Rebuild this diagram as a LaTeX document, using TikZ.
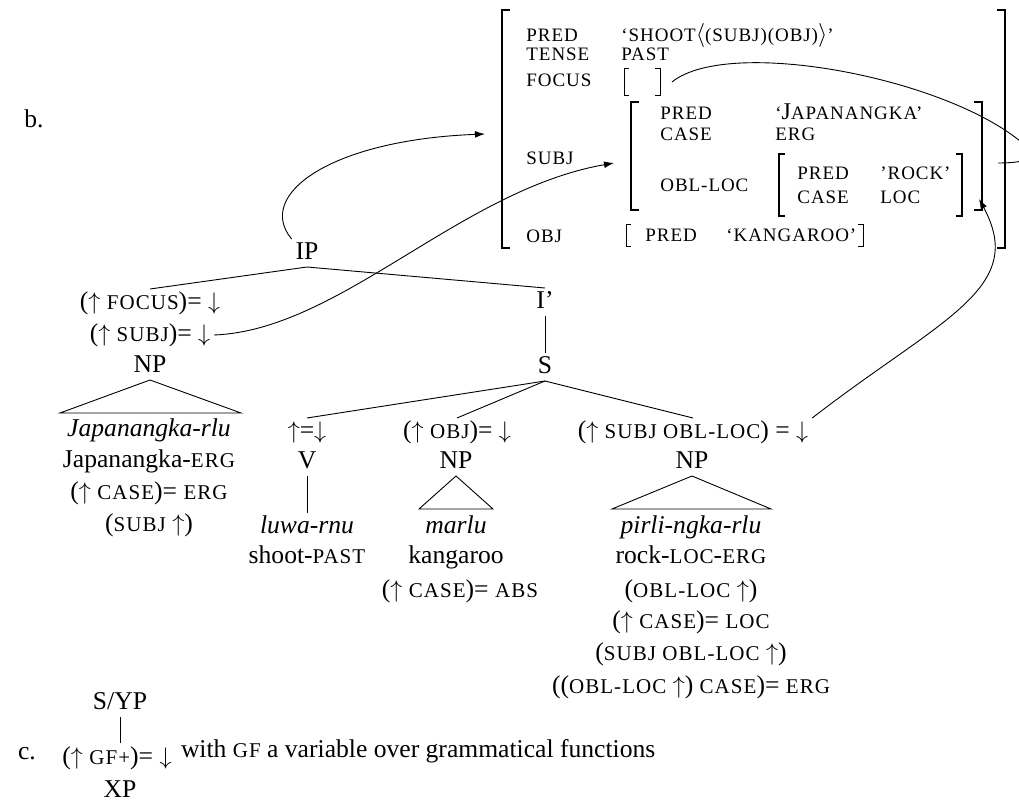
\documentclass[tikz,border=0pt]{standalone}
\usepackage{fontspec}
\setmainfont{Liberation Serif}
\newfontfamily\scf[LetterSpace=5]{Liberation Serif}
\usetikzlibrary{arrows.meta}
\newcommand\tsc[1]{{\scf\fontsize{10.5}{12}\selectfont #1}}
\newcommand\fsbr[6]{%
  \draw[#1] ({#2+#6},#3) -- (#2,#3) -- (#2,#5) -- ({#2+#6},#5);
  \draw[#1] ({#4-#6},#3) -- (#4,#3) -- (#4,#5) -- ({#4-#6},#5);}
\begin{document}
\begin{tikzpicture}[x=0.5pt,y=-0.5pt,
  t/.style={inner sep=0pt, outer sep=2pt, text height=8.5pt, text depth=1.5pt,
            font=\fontsize{12.8}{15}\selectfont},
  m/.style={anchor=west, inner sep=0pt, text height=6.8pt, text depth=1.5pt,
            font=\scf\fontsize{9.5}{11}\selectfont},
  ln/.style={line width=0.45pt},
  arr/.style={line width=0.45pt, -{Latex[length=5pt,width=3.4pt]}},
  thickbr/.style={line width=1pt, line join=miter},
  midbr/.style={line width=0.7pt, line join=miter},
  thinbr/.style={line width=0.45pt, line join=miter}]
\useasboundingbox (0,0) rectangle (1019,802);
\clip (0,0) rectangle (1019,802);

% ---------- labels b. c.
\node[t] (blab) at (34,121) {b.};
\node[t] (clab) at (27,752) {c.};

% ---------- f-structure
\fsbr{thickbr}{502}{10}{1005}{248}{8}
\node[m] (aPred) at (526,36) {PRED};
\node[m] (vPred) at (621,36) {‘SHOOT{\fontsize{12}{13}\selectfont$\langle$}(SUBJ)(OBJ){\fontsize{12}{13}\selectfont$\rangle$}’};
\node[m] (aTense) at (526,55) {TENSE};
\node[m] (vTense) at (621,55) {PAST};
\node[m] (aFocus) at (526,81) {FOCUS};
\fsbr{thinbr}{624}{68}{660}{95}{5}
\coordinate (focusR) at (672,82);
\node[m] (aSubj) at (526,159) {SUBJ};
\fsbr{thickbr}{631}{102}{982}{210}{8}
\node[m] (sPred) at (660,114) {PRED};
\node[m] (sPredV) at (775,114) {‘{\fontsize{12}{13}\selectfont J}APANANGKA’};
\node[m] (sCase) at (660,135) {CASE};
\node[m] (sCaseV) at (775,135) {ERG};
\node[m] (sObl) at (660,186) {OBL-LOC};
\fsbr{midbr}{779}{154}{962}{216}{6}
\node[m] (oPred) at (797,174) {PRED};
\node[m] (oPredV) at (880,174) {’ROCK’};
\node[m] (oCase) at (797,198) {CASE};
\node[m] (oCaseV) at (880,198) {LOC};
\node[m] (aObj) at (526,237) {OBJ};
\fsbr{thinbr}{626}{224}{863}{246}{5}
\node[m] (jPred) at (645,236) {PRED};
\node[m] (jPredV) at (726,236) {‘KANGAROO’};

\coordinate (fstop) at (485,134);
\coordinate (subjtip) at (614,163);
\coordinate (obltip) at (979,199);
\coordinate (focusEnd) at (998,163);

% ---------- c-structure
\node[t] (IP) at (307,253) {IP};
\node[t] (focus) at (150,303) {($\uparrow$ \tsc{FOCUS})= $\downarrow$};
\node[t] (subjeq) at (150,335) {($\uparrow$ \tsc{SUBJ})= $\downarrow$};
\node[t] (NP1) at (150,366) {NP};
\coordinate (b1l) at (60,413);
\coordinate (b1r) at (241,413);
\node[t] (jrlu) at (149,430) {\textit{Japanangka-rlu}};
\node[t] (jerg) at (149,461) {Japanangka-\tsc{ERG}};
\node[t] (jcase) at (149,493) {($\uparrow$ \tsc{CASE})= \tsc{ERG}};
\node[t] (jsubj) at (149,524) {(\tsc{SUBJ} $\uparrow$)};

\node[t] (Ibar) at (545,302) {I’};
\node[t] (S) at (545,367) {S};

\node[t] (vann) at (307,432) {$\uparrow$=$\downarrow$};
\node[t] (V) at (307,462) {V};
\node[t] (luwa) at (307,527) {\textit{luwa-rnu}};
\node[t] (shootp) at (307,557) {shoot-\tsc{PAST}};

\node[t] (objann) at (457,432) {($\uparrow$ \tsc{OBJ})= $\downarrow$};
\node[t] (NP2) at (456,462) {NP};
\coordinate (b2l) at (419,509);
\coordinate (b2r) at (493,509);
\node[t] (marlu) at (456,527) {\textit{marlu}};
\node[t] (kang) at (456,557) {kangaroo};
\node[t] (abs) at (460,590) {($\uparrow$ \tsc{CASE})= \tsc{ABS}};

\node[t] (oblann) at (693,432) {($\uparrow$ \tsc{SUBJ OBL-LOC}) = $\downarrow$};
\node[t] (NP3) at (692,462) {NP};
\coordinate (b3l) at (612,509);
\coordinate (b3r) at (771,509);
\node[t] (pirli) at (691,527) {\textit{pirli-ngka-rlu}};
\node[t] (rock) at (691,557) {rock-\tsc{LOC}-\tsc{ERG}};
\node[t] (r1) at (691,590) {(\tsc{OBL-LOC} $\uparrow$)};
\node[t] (r2) at (691,622) {($\uparrow$ \tsc{CASE})= \tsc{LOC}};
\node[t] (r3) at (691,654) {(\tsc{SUBJ OBL-LOC} $\uparrow$)};
\node[t] (r4) at (691,686) {((\tsc{OBL-LOC} $\uparrow$) \tsc{CASE})= \tsc{ERG}};

% tree lines
\draw[ln] (IP.south) -- (focus.north);
\draw[ln] (IP.south) -- (Ibar.north);
\draw[ln] (Ibar.south) -- (S.north);
\draw[ln] (S.south) -- (vann.north);
\draw[ln] (S.south) -- (objann.north);
\draw[ln] (S.south) -- (oblann.north);
\draw[ln] (V.south) -- (luwa.north);
\draw[ln] (NP1.south) -- (b1l) -- (b1r) -- cycle;
\draw[ln] (NP2.south) -- (b2l) -- (b2r) -- cycle;
\draw[ln] (NP3.south) -- (b3l) -- (b3r) -- cycle;

% ---------- c.
\node[t] (SYP) at (120,703) {S/YP};
\node[t] (gf) at (117,757) {($\uparrow$ \tsc{GF+})= $\downarrow$};
\node[t] (XP) at (120,790) {XP};
\node[t, anchor=west] (with) at (177,750) {with \tsc{GF} a variable over grammatical functions};
\coordinate (gftop) at (120,743);
\draw[ln] (SYP.south) -- (gftop);

% ---------- arrows
\draw[arr] (IP.north west) .. controls (255,195) and (330,140) .. (fstop);
\draw[arr] (subjeq.east) .. controls (340,330) and (460,190) .. (subjtip);
\draw[arr] (oblann.north east) .. controls (940,319) and (1028,289) .. (obltip);
\draw[ln] (focusR) .. controls (730,35) and (960,80) .. (1030,150)
          .. controls (1035,160) and (1020,163) .. (focusEnd);
\end{tikzpicture}
\end{document}
